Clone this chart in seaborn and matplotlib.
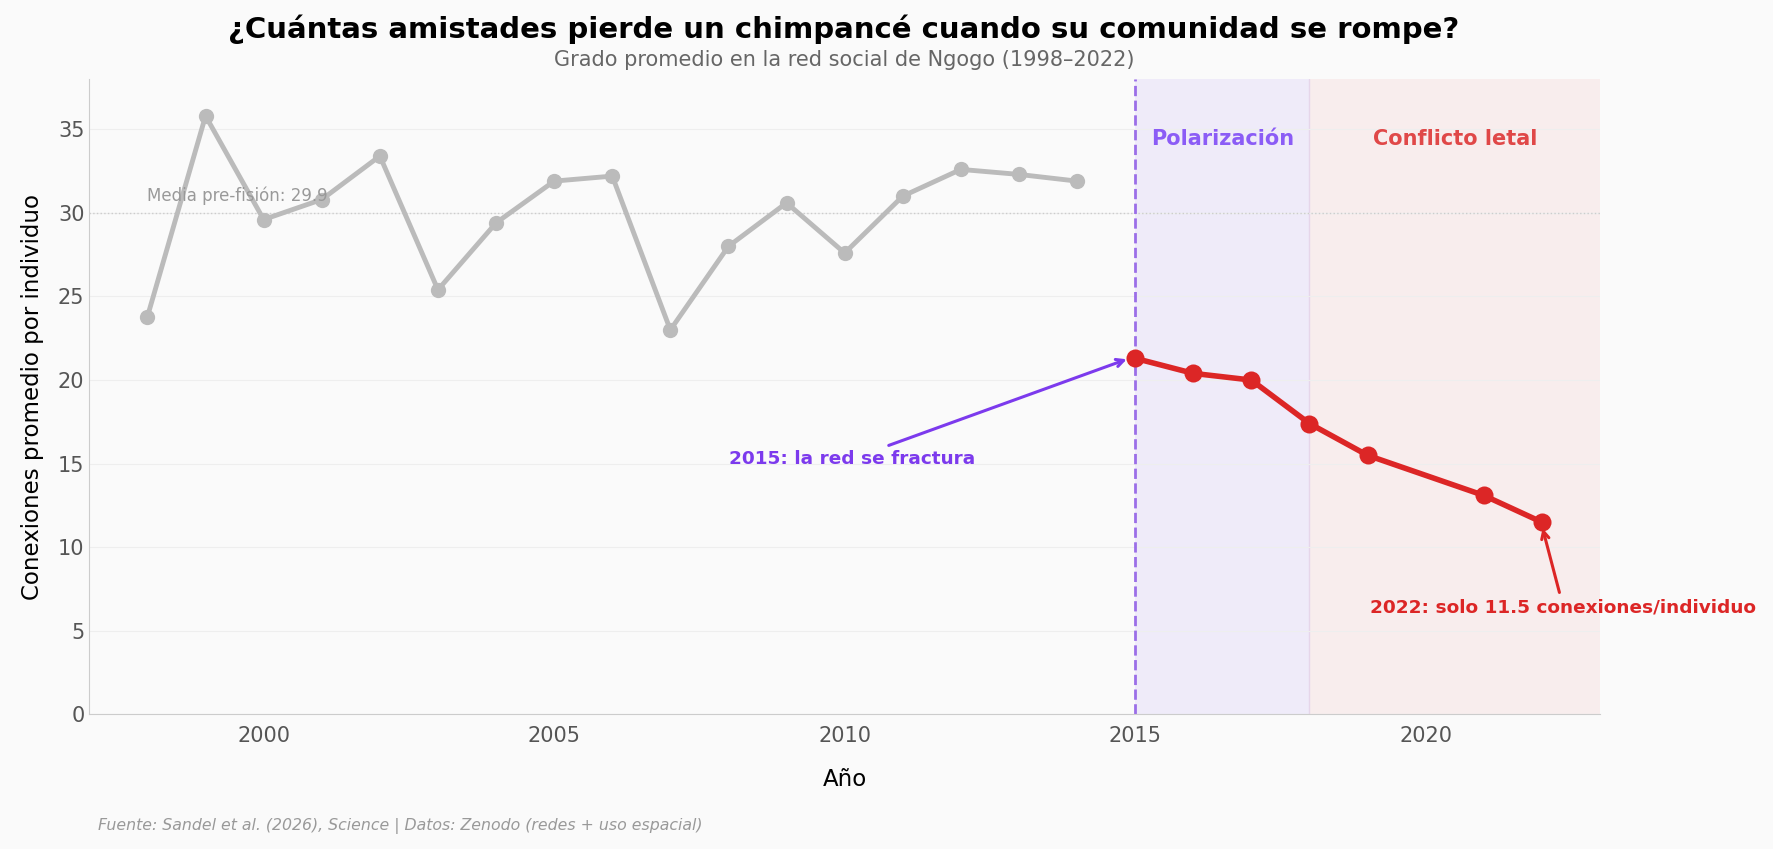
import numpy as np
import pandas as pd
import seaborn as sns
import matplotlib.pyplot as plt

# pre-fission years (gray)
years_pre = [1998, 1999, 2000, 2001, 2002, 2003, 2004, 2005, 2006,
             2007, 2008, 2009, 2010, 2011, 2012, 2013, 2014]
degree_pre = [23.8, 35.8, 29.6, 30.8, 33.4, 25.4, 29.4, 31.9, 32.2,
              23.0, 28.0, 30.6, 27.6, 31.0, 32.6, 32.3, 31.9]

# post-fission years (red)
years_post = [2015, 2016, 2017, 2018, 2019, 2021, 2022]
degree_post = [21.3, 20.4, 20.0, 17.4, 15.5, 13.1, 11.5]

mean_pre = 29.9

sns.set_style("white")
plt.rcParams['font.family'] = ['DejaVu Sans']

df_pre = pd.DataFrame({'year': years_pre, 'degree': degree_pre})
df_post = pd.DataFrame({'year': years_post, 'degree': degree_post})

fig, ax = plt.subplots(figsize=(17.73, 8.49), dpi=100)
fig.patch.set_facecolor('#fafafa')
ax.set_facecolor('#fafafa')
fig.subplots_adjust(left=0.0504, right=0.9024, top=0.9068, bottom=0.1585)

ax.axvspan(2015, 2018, color='#8b5cf6', alpha=0.09, lw=0, zorder=0)
ax.axvspan(2018, 2023, color='#dc2626', alpha=0.06, lw=0, zorder=0)
ax.axvline(2018, color='#e6d6ea', lw=1, zorder=0)
ax.axhline(30, color='#cccccc', lw=1, ls=':', zorder=1)
ax.axvline(2015, color='#9b6ee8', lw=2, ls='--', zorder=2)

sns.lineplot(data=df_pre, x='year', y='degree', ax=ax, color='#bbbbbb',
             lw=3.5, marker='o', markersize=11, markeredgewidth=0, zorder=3)
sns.lineplot(data=df_post, x='year', y='degree', ax=ax, color='#dc2626',
             lw=4, marker='o', markersize=13, markeredgewidth=0, zorder=4)

ax.set_xlim(1997, 2023)
ax.set_ylim(0, 38)
ax.set_yticks(range(0, 36, 5))
ax.set_xticks([2000, 2005, 2010, 2015, 2020])
ax.grid(axis='y', color='#eeeeee', lw=0.8)
ax.set_axisbelow(True)
sns.despine(ax=ax)
for s in ['left', 'bottom']:
    ax.spines[s].set_color('#cccccc')
ax.tick_params(axis='both', labelsize=15, colors='#555555')
ax.tick_params(axis='x', length=5, color='#888888')
ax.tick_params(axis='y', length=0)

ax.set_xlabel('Año', fontsize=16.5, labelpad=16, color='black')
ax.set_ylabel('Conexiones promedio por individuo', fontsize=16.5, labelpad=10, color='black')

ax.text(1998, 31.0, f'Media pre-fisión: {mean_pre}', fontsize=12, color='#999999',
        ha='left', va='center')
ax.text(2016.5, 34.4, 'Polarización', fontsize=15, fontweight='bold',
        color='#8b5cf6', ha='center', va='center')
ax.text(2020.5, 34.4, 'Conflicto letal', fontsize=15, fontweight='bold',
        color='#e04848', ha='center', va='center')

ax.annotate('2015: la red se fractura', xy=(2014.9, 21.3), xytext=(2010.13, 15.3),
            fontsize=13.3, fontweight='bold', color='#7c3aed', ha='center', va='center',
            arrowprops=dict(arrowstyle='->', color='#7c3aed', lw=2.2, shrinkB=2))
ax.annotate('2022: solo 11.5 conexiones/individuo', xy=(2022, 11.3), xytext=(2022.37, 6.4),
            fontsize=13.3, fontweight='bold', color='#dc2626', ha='center', va='center',
            annotation_clip=False,
            arrowprops=dict(arrowstyle='->', color='#dc2626', lw=2.2, shrinkB=2))

fig.text(0.476, 0.965, '¿Cuántas amistades pierde un chimpancé cuando su comunidad se rompe?',
         fontsize=21, fontweight='bold', color='black', ha='center', va='center')
fig.text(0.476, 0.929, 'Grado promedio en la red social de Ngogo (1998–2022)',
         fontsize=15, color='#666666', ha='center', va='center')
fig.text(0.0555, 0.027, 'Fuente: Sandel et al. (2026), Science | Datos: Zenodo (redes + uso espacial)',
         fontsize=11.3, style='italic', color='#999999', ha='left', va='center')

fig.savefig('out.png', dpi=100, facecolor=fig.get_facecolor())
